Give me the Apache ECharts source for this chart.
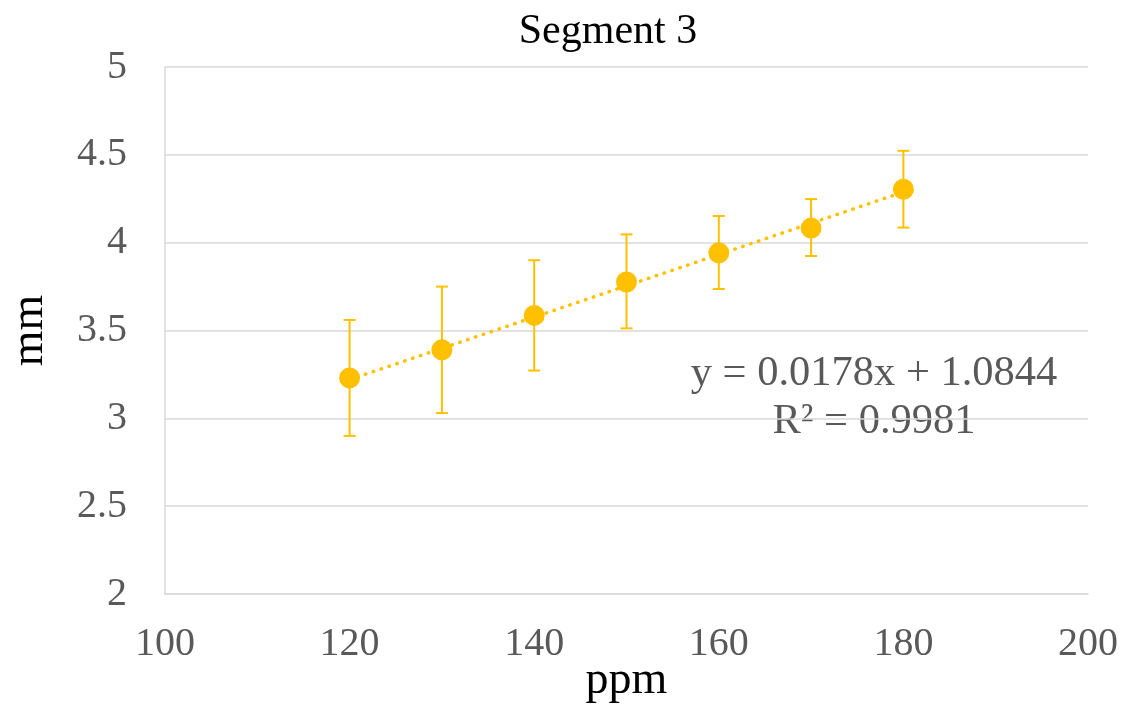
<!DOCTYPE html>
<html>
<head>
<meta charset="utf-8">
<script src="https://cdn.jsdelivr.net/npm/echarts@6/dist/echarts.min.js"></script>
<style>html,body{margin:0;padding:0;background:#fff}#c{width:1125px;height:708px}</style>
</head>
<body>
<div id="c"></div>
<script>
// Data
var ppm = [120, 130, 140, 150, 160, 170, 180];
var mm = [3.23, 3.39, 3.586, 3.776, 3.942, 4.083, 4.304];
var errHigh = [3.56, 3.75, 3.90, 4.047, 4.152, 4.248, 4.523];
var errLow = [2.90, 3.03, 3.272, 3.512, 3.736, 3.924, 4.086];
var xTicks = [100, 120, 140, 160, 180, 200];
var yTicks = [2, 2.5, 3, 3.5, 4, 4.5, 5];
var trendSlope = 0.0178;
var trendIntercept = 1.0844;
var trendText = 'y = 0.0178x + 1.0844\nR² = 0.9981';
var titleText = 'Segment 3';

var FONT = '"Liberation Serif", "Times New Roman", serif';
var GOLD = '#FFC000';

var scatterData = ppm.map(function (x, i) { return [x, mm[i]]; });
var errData = ppm.map(function (x, i) { return [x, errLow[i], errHigh[i]]; });
var trendX = [ppm[0], ppm[ppm.length - 1]];
var trendData = trendX.map(function (x) { return [x, trendSlope * x + trendIntercept]; });

var chart = echarts.init(document.getElementById('c'));
chart.setOption({
  animation: false,
  backgroundColor: '#fff',
  title: {
    text: titleText,
    left: 603,
    top: 6,
    textAlign: 'center',
    textStyle: { fontFamily: FONT, fontSize: 42, fontWeight: 'normal', color: '#000' }
  },
  grid: { left: 165, right: 37, top: 67, bottom: 114, containLabel: false, outerBoundsMode: 'none' },
  xAxis: {
    type: 'value',
    min: xTicks[0], max: xTicks[xTicks.length - 1], interval: 20,
    name: 'ppm', nameLocation: 'middle', nameGap: 64, nameMoveOverlap: false,
    nameTextStyle: { fontFamily: FONT, fontSize: 46, color: '#000' },
    axisLine: { show: true, lineStyle: { color: '#D9D9D9', width: 1.5 } },
    axisTick: { show: false },
    splitLine: { show: false },
    axisLabel: { fontFamily: FONT, fontSize: 40, color: '#595959', margin: 30 }
  },
  yAxis: {
    type: 'value',
    min: yTicks[0], max: yTicks[yTicks.length - 1], interval: 0.5,
    name: 'mm', nameLocation: 'middle', nameGap: 112, nameMoveOverlap: false,
    nameTextStyle: { fontFamily: FONT, fontSize: 46, color: '#000' },
    axisLine: { show: true, lineStyle: { color: '#D9D9D9', width: 1.5 } },
    axisTick: { show: false },
    splitLine: { show: true, lineStyle: { color: '#D9D9D9', width: 1.5 } },
    axisLabel: { fontFamily: FONT, fontSize: 40, color: '#595959', margin: 38 }
  },
  graphic: [{
    type: 'text',
    x: 874, y: 350,
    style: {
      text: trendText,
      font: '42.5px ' + FONT,
      fill: '#595959',
      align: 'center',
      verticalAlign: 'top',
      lineHeight: 48
    }
  }],
  series: [
    {
      type: 'line',
      data: trendData,
      symbol: 'none',
      z: 2,
      lineStyle: { color: GOLD, width: 3.5, type: [0.5, 7.8], cap: 'round' }
    },
    {
      type: 'custom',
      data: errData,
      z: 3,
      renderItem: function (params, api) {
        var x = api.value(0);
        var lo = api.coord([x, api.value(1)]);
        var hi = api.coord([x, api.value(2)]);
        var hw = 6;
        var st = { stroke: GOLD, lineWidth: 2 };
        return {
          type: 'group',
          children: [
            { type: 'line', shape: { x1: hi[0], y1: hi[1], x2: lo[0], y2: lo[1] }, style: st },
            { type: 'line', shape: { x1: hi[0] - hw, y1: hi[1], x2: hi[0] + hw, y2: hi[1] }, style: st },
            { type: 'line', shape: { x1: lo[0] - hw, y1: lo[1], x2: lo[0] + hw, y2: lo[1] }, style: st }
          ]
        };
      }
    },
    {
      type: 'scatter',
      data: scatterData,
      symbol: 'circle',
      symbolSize: 21,
      z: 4,
      itemStyle: { color: GOLD, opacity: 1 }
    }
  ]
});
</script>
</body>
</html>
